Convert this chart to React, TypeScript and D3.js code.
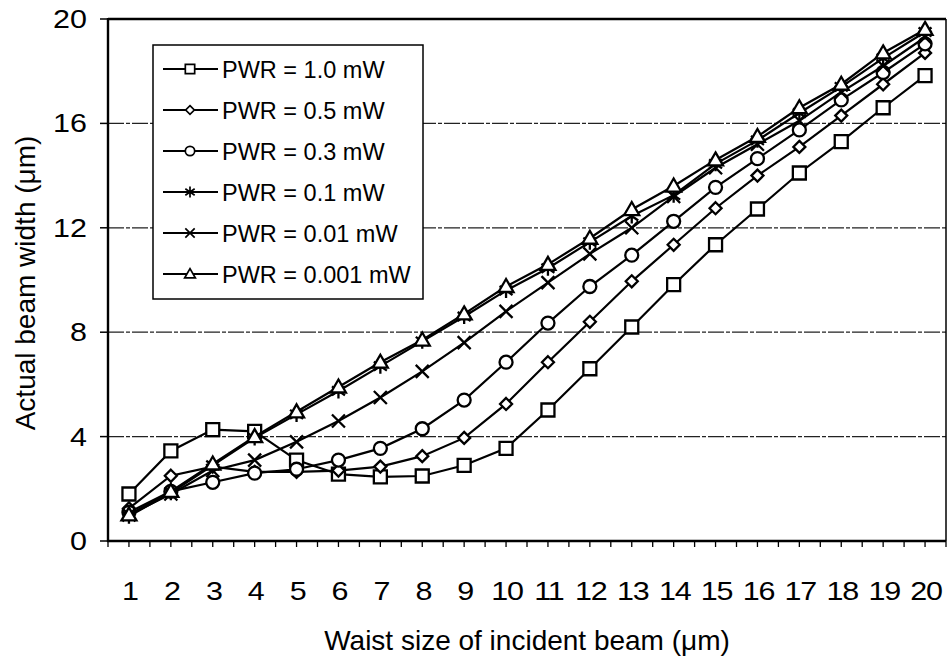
import React, { useEffect, useRef } from 'react';
import * as d3 from 'd3';

const categories = [1, 2, 3, 4, 5, 6, 7, 8, 9, 10, 11, 12, 13, 14, 15, 16, 17, 18, 19, 20];
const seriesNames = ['PWR = 1.0 mW', 'PWR = 0.5 mW', 'PWR = 0.3 mW', 'PWR = 0.1 mW', 'PWR = 0.01 mW', 'PWR = 0.001 mW'];
const pwr1_0 = [1.8, 3.45, 4.27, 4.2, 3.1, 2.56, 2.46, 2.49, 2.9, 3.55, 5.02, 6.6, 8.2, 9.82, 11.35, 12.72, 14.1, 15.3, 16.6, 17.83];
const pwr0_5 = [1.25, 2.5, 2.85, 2.65, 2.65, 2.7, 2.85, 3.25, 3.95, 5.25, 6.85, 8.4, 9.95, 11.35, 12.75, 14.0, 15.1, 16.3, 17.5, 18.7];
const pwr0_3 = [1.1, 1.9, 2.25, 2.6, 2.75, 3.1, 3.55, 4.3, 5.4, 6.85, 8.35, 9.75, 10.95, 12.25, 13.55, 14.65, 15.75, 16.9, 17.95, 19.05];
const pwr0_1 = [0.95, 1.85, 2.9, 3.95, 4.85, 5.75, 6.7, 7.65, 8.6, 9.6, 10.45, 11.45, 12.45, 13.25, 14.45, 15.35, 16.4, 17.4, 18.5, 19.5];
const pwr0_01 = [1.0, 1.8, 2.7, 3.1, 3.8, 4.6, 5.5, 6.5, 7.6, 8.8, 9.9, 11.0, 12.0, 13.2, 14.3, 15.2, 16.1, 17.2, 18.2, 19.3];
const pwr0_001 = [1.0, 1.9, 2.95, 4.0, 4.95, 5.9, 6.85, 7.7, 8.7, 9.75, 10.6, 11.6, 12.7, 13.6, 14.6, 15.5, 16.6, 17.5, 18.7, 19.6];
const markerTypes = ['square', 'diamond', 'circle', 'star', 'cross', 'triangle'];
const yTicks = [0, 4, 8, 12, 16, 20];
const gridValues = [4, 8, 12, 16];
const xTitle = 'Waist size of incident beam (\u03bcm)';
const yTitle = 'Actual beam width (\u03bcm)';

const FONT = '"Liberation Sans", Arial, Helvetica, sans-serif';
const SX = 1.22;

function markerPath(type: string, k: number): string {
  switch (type) {
    case 'square': return `M${-6.5 * k},${-6.5 * k}h${13 * k}v${13 * k}h${-13 * k}Z`;
    case 'diamond': return `M0,${-6 * k}L${6 * k},0L0,${6 * k}L${-6 * k},0Z`;
    case 'circle': return `M${6.5 * k},0A${6.5 * k},${6.5 * k} 0 1,1 ${-6.5 * k},0A${6.5 * k},${6.5 * k} 0 1,1 ${6.5 * k},0Z`;
    case 'star': return `M0,${-7.5 * k}V${7.5 * k}M${-6.5 * k},${-4.5 * k}L${6.5 * k},${4.5 * k}M${-6.5 * k},${4.5 * k}L${6.5 * k},${-4.5 * k}`;
    case 'cross': return `M${-6.5 * k},${-6.5 * k}L${6.5 * k},${6.5 * k}M${-6.5 * k},${6.5 * k}L${6.5 * k},${-6.5 * k}`;
    case 'triangle': return `M0,${-7.5 * k}L${7.5 * k},${5.5 * k}H${-7.5 * k}Z`;
  }
  return '';
}

export default function App() {
  const ref = useRef<SVGSVGElement>(null);
  useEffect(() => {
    const svg = d3.select(ref.current);
    svg.selectAll('*').remove();
    const left = 108, right = 946, top = 19, bottom = 541;
    const x = d3.scalePoint<number>().domain(categories).range([left, right]).padding(0.5);
    const y = d3.scaleLinear().domain([0, 20]).range([bottom, top]);
    const step = x.step();

    // gridlines
    svg.append('g').selectAll('line').data(gridValues).join('line')
      .attr('x1', left).attr('x2', right)
      .attr('y1', (d) => y(d)).attr('y2', (d) => y(d))
      .attr('stroke', '#222').attr('stroke-width', 1.3).attr('stroke-dasharray', '16,2,4,2');

    // frame
    svg.append('line').attr('x1', left).attr('x2', right).attr('y1', top).attr('y2', top).attr('stroke', '#000').attr('stroke-width', 2.4);
    svg.append('line').attr('x1', right).attr('x2', right).attr('y1', top).attr('y2', bottom).attr('stroke', '#000').attr('stroke-width', 1.5);
    svg.append('line').attr('x1', left).attr('x2', left).attr('y1', top - 1).attr('y2', bottom + 1).attr('stroke', '#000').attr('stroke-width', 2.4);
    svg.append('line').attr('x1', left - 1).attr('x2', right).attr('y1', bottom).attr('y2', bottom).attr('stroke', '#000').attr('stroke-width', 2.4);

    // y ticks
    svg.append('g').selectAll('line').data(yTicks).join('line')
      .attr('x1', left - 8).attr('x2', left).attr('y1', (d) => y(d)).attr('y2', (d) => y(d))
      .attr('stroke', '#000').attr('stroke-width', 1.5);
    svg.append('g').selectAll('text').data(yTicks).join('text')
      .attr('transform', (d) => `translate(87,${y(d) + 9}) scale(${SX},1)`)
      .attr('text-anchor', 'end').attr('font-family', FONT).attr('font-size', 25).attr('fill', '#000')
      .text((d) => String(d));

    // x ticks (half-category)
    const xt = d3.range(0, categories.length * 2 + 1).map((i) => left + (i * step) / 2);
    svg.append('g').selectAll('line').data(xt).join('line')
      .attr('x1', (d) => d).attr('x2', (d) => d).attr('y1', bottom).attr('y2', bottom + 6)
      .attr('stroke', '#000').attr('stroke-width', 1.3);
    svg.append('g').selectAll('text').data(categories).join('text')
      .attr('transform', (d) => `translate(${(x(d) as number) + 1},600) scale(${SX},1)`)
      .attr('text-anchor', 'middle').attr('font-family', FONT).attr('font-size', 25).attr('fill', '#000')
      .attr('letter-spacing', -1)
      .text((d) => String(d));

    // titles
    svg.append('text').attr('transform', `translate(527,650)`)
      .attr('text-anchor', 'middle').attr('font-family', FONT).attr('font-size', 28).text(xTitle);
    svg.append('text').attr('transform', `translate(35,283) rotate(-90)`)
      .attr('text-anchor', 'middle').attr('font-family', FONT).attr('font-size', 28).text(yTitle);

    const allSeries = [pwr1_0, pwr0_5, pwr0_3, pwr0_1, pwr0_01, pwr0_001];
    const line = d3.line<number>().x((_, i) => x(categories[i]) as number).y((d) => y(d));

    allSeries.forEach((vals, si) => {
      const g = svg.append('g');
      g.append('path').attr('d', line(vals) as string).attr('fill', 'none').attr('stroke', '#000').attr('stroke-width', 2.2);
      const mt = markerTypes[si];
      const open = mt !== 'star' && mt !== 'cross';
      g.selectAll('path.m').data(vals).join('path').attr('class', 'm')
        .attr('transform', (d, i) => `translate(${x(categories[i])},${y(d)})`)
        .attr('d', markerPath(mt, 1))
        .attr('fill', open ? '#fff' : 'none').attr('stroke', '#000').attr('stroke-width', 2.3);
    });

    // legend
    const lg = svg.append('g');
    lg.append('rect').attr('x', 153).attr('y', 45).attr('width', 270).attr('height', 254)
      .attr('fill', '#fff').attr('stroke', '#000').attr('stroke-width', 1.5);
    const rowY = d3.scaleLinear().domain([0, 5]).range([69, 274]);
    seriesNames.forEach((name, i) => {
      const ry = rowY(i);
      lg.append('line').attr('x1', 163).attr('x2', 218).attr('y1', ry).attr('y2', ry).attr('stroke', '#000').attr('stroke-width', 1.8);
      const mt = markerTypes[i];
      const open = mt !== 'star' && mt !== 'cross';
      lg.append('path').attr('transform', `translate(190,${ry})`).attr('d', markerPath(mt, 0.72))
        .attr('fill', open ? '#fff' : 'none').attr('stroke', '#000').attr('stroke-width', 1.7);
      lg.append('text').attr('transform', `translate(222,${ry + 8.5})`)
        .attr('font-family', FONT).attr('font-size', 23.5).attr('fill', '#000')
        .text(name);
    });
  }, []);
  return (
    <svg ref={ref} width={948} height={660}
      style={{ position: 'absolute', left: 0, top: 0, background: '#fff', display: 'block' }} />
  );
}
